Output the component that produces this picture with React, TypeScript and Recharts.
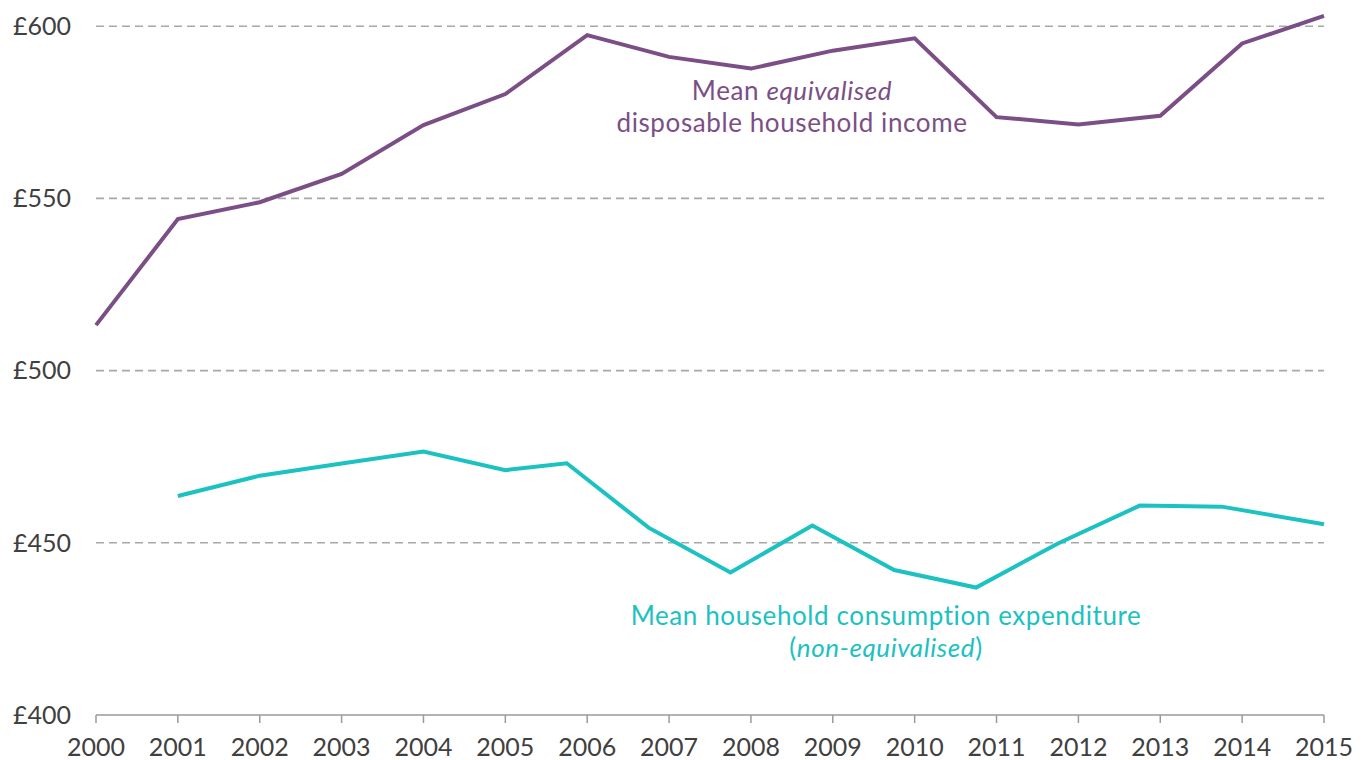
import { LineChart, Line, XAxis, YAxis, CartesianGrid } from "recharts";

// purple series: mean equivalised disposable household income (£/week)
const incomeYears = [2000, 2001, 2002, 2003, 2004, 2005, 2006, 2007, 2008, 2009, 2010, 2011, 2012, 2013, 2014, 2015];
const incomeValues = [513.2, 544.0, 548.9, 557.1, 571.3, 580.3, 597.4, 591.1, 587.7, 592.9, 596.5, 573.6, 571.5, 574.0, 595.0, 603.0];

// teal series: mean household consumption expenditure (non-equivalised)
const spendYears = [2001, 2002, 2003, 2004, 2005, 2005.75, 2006.75, 2007.75, 2008.75, 2009.75, 2010.75, 2011.75, 2012.75, 2013.75, 2015];
const spendValues = [463.6, 469.5, 473.0, 476.5, 471.1, 473.1, 454.4, 441.4, 455.0, 442.1, 437.0, 449.8, 460.8, 460.5, 455.4];

const yearTicks = [2000, 2001, 2002, 2003, 2004, 2005, 2006, 2007, 2008, 2009, 2010, 2011, 2012, 2013, 2014, 2015];
const poundTicks = [400, 450, 500, 550, 600];

const PURPLE = "#7b4f85";
const TEAL = "#1cc1c1";
const FONT = "Lato, 'Open Sans', sans-serif";

const incomeData = incomeYears.map((year, i) => ({ year, value: incomeValues[i] }));
const spendData = spendYears.map((year, i) => ({ year, value: spendValues[i] }));

export default function App() {
  const tick = { fontSize: 25, fill: "#404040", fontFamily: FONT };

  return (
    <div style={{ position: "absolute", left: 0, top: 0, width: 1367, height: 760, background: "#fff", fontFamily: FONT }}>
      <LineChart width={1367} height={760} margin={{ top: 9, right: 43, bottom: 0, left: 0 }}>
        <CartesianGrid
          horizontalValues={[450, 500, 550, 600]}
          vertical={false}
          stroke="#a8a8a8"
          strokeWidth={1.6}
          strokeDasharray="8 5"
        />
        <XAxis
          type="number"
          dataKey="year"
          domain={[2000, 2015]}
          ticks={yearTicks}
          interval={0}
          height={45}
          tick={tick}
          tickSize={8}
          tickMargin={15}
          stroke="#9a9a9a"
          strokeWidth={1.5}
        />
        <YAxis
          type="number"
          domain={[400, 605]}
          ticks={poundTicks}
          width={96}
          axisLine={false}
          tickLine={false}
          tickSize={0}
          tickMargin={25}
          tick={tick}
          tickFormatter={(v: number) => `£${v}`}
        />
        <Line data={incomeData} dataKey="value" type="linear" stroke={PURPLE} strokeWidth={4} dot={false} isAnimationActive={false} />
        <Line data={spendData} dataKey="value" type="linear" stroke={TEAL} strokeWidth={4} dot={false} isAnimationActive={false} />
      </LineChart>

      <div style={{ position: "absolute", left: 572, top: 75, width: 440, textAlign: "center", color: PURPLE, fontSize: 26, letterSpacing: 0.6, lineHeight: "31.5px" }}>
        Mean <i>equivalised</i>
        <br />
        disposable household income
      </div>
      <div style={{ position: "absolute", left: 606, top: 599, width: 560, textAlign: "center", color: TEAL, fontSize: 26, letterSpacing: 0.6, lineHeight: "32px" }}>
        Mean household consumption expenditure
        <br />(<i>non-equivalised</i>)
      </div>
    </div>
  );
}
